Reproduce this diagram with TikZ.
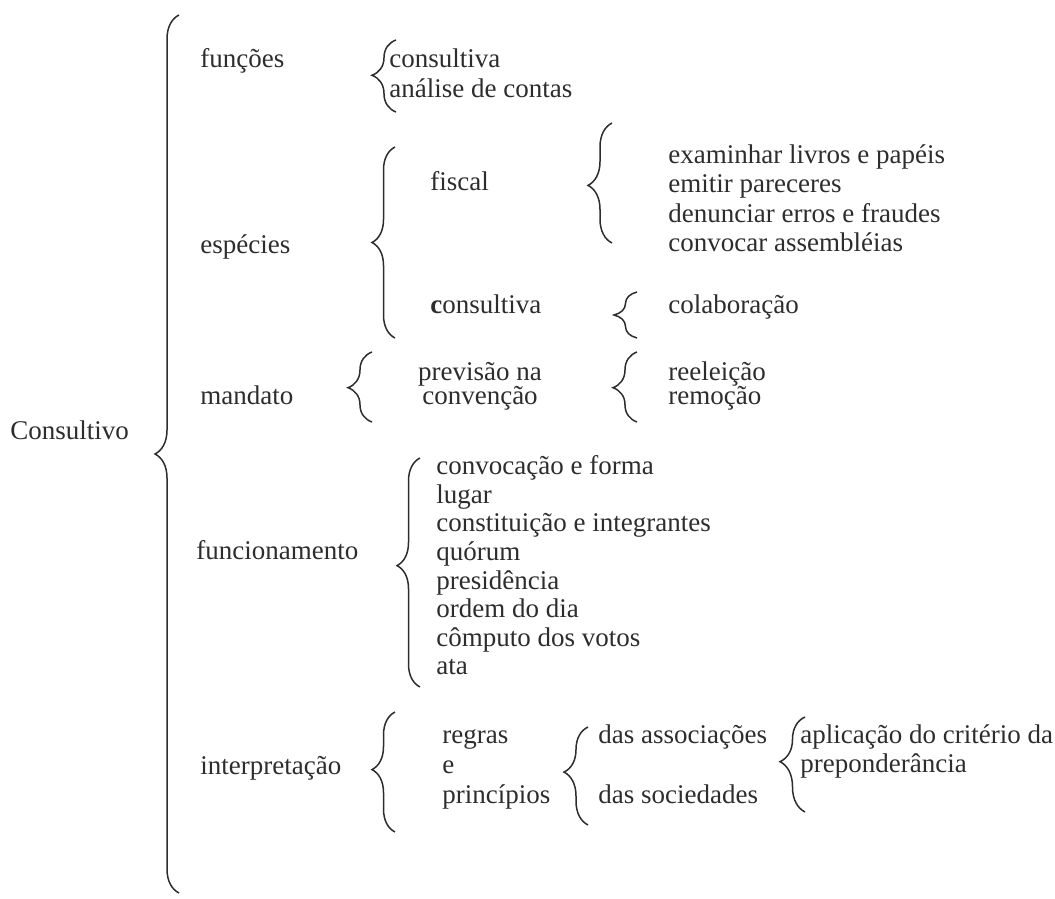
\documentclass[tikz,border=0pt]{standalone}
\usepackage{fontspec}
\setmainfont{Liberation Serif}
\usepackage{xcolor}
\definecolor{Ink}{RGB}{45,45,45}
\usetikzlibrary{decorations.pathreplacing}
\tikzstyle{Item}=[anchor=base west,inner sep=0pt,text=Ink,
font=\fontsize{13.5}{14}\selectfont]
\tikzstyle{ItemC}=[Item,anchor=base]
\tikzstyle{Brace}=[draw=Ink,line width=0.75pt,decorate]

\begin{document}
\begin{tikzpicture}[x=0.5pt,y=-0.5pt]
        \useasboundingbox (0,0) rectangle (1055,899);
        % root
        \node[Item](root)at(10,439){Consultivo};
        \coordinate(rb)at(179,893);
        \coordinate(rt)at(179,15);
        \draw[Brace,decoration={brace,amplitude=12pt,aspect=0.5}](rb)--(rt);
        % funcoes
        \node[Item](fun)at(200,68){funções};
        \coordinate(funb)at(396,112);
        \coordinate(funt)at(396,40);
        \draw[Brace,decoration={brace,amplitude=12pt,aspect=0.51}](funb)--(funt);
        \node[Item](fun1)at(389,68){consultiva};
        \node[Item](fun2)at(389,98){análise de contas};
        % especies
        \node[Item](esp)at(200,253){espécies};
        \coordinate(espb)at(395,338);
        \coordinate(espt)at(395,147);
        \draw[Brace,decoration={brace,amplitude=11.5pt,aspect=0.5}](espb)--(espt);
        \node[Item](fis)at(430,191){fiscal};
        \coordinate(fisb)at(612,243);
        \coordinate(fist)at(612,123);
        \draw[Brace,decoration={brace,amplitude=12pt,aspect=0.48}](fisb)--(fist);
        \node[Item](fis1)at(668,163){examinhar livros e papéis};
        \node[Item](fis2)at(668,192){emitir pareceres};
        \node[Item](fis3)at(668,222){denunciar erros e fraudes};
        \node[Item](fis4)at(668,251){convocar assembléias};
        \node[Item](con)at(430,313){\textbf{c}onsultiva};
        \coordinate(conb)at(637,338);
        \coordinate(cont)at(637,292);
        \draw[Brace,decoration={brace,amplitude=11.5pt,aspect=0.5}](conb)--(cont);
        \node[Item](con1)at(668,313){colaboração};
        % mandato
        \node[Item](man)at(200,404){mandato};
        \coordinate(manb)at(372,422);
        \coordinate(mant)at(372,352);
        \draw[Brace,decoration={brace,amplitude=12pt,aspect=0.49}](manb)--(mant);
        \node[ItemC](prev1)at(480,380){previsão na};
        \node[ItemC](prev2)at(480,404){convenção};
        \coordinate(prevb)at(637,422);
        \coordinate(prevt)at(637,352);
        \draw[Brace,decoration={brace,amplitude=12pt,aspect=0.49}](prevb)--(prevt);
        \node[Item](man1)at(668,380){reeleição};
        \node[Item](man2)at(668,404){remoção};
        % funcionamento
        \node[Item](func)at(196,559){funcionamento};
        \coordinate(funcb)at(420,687);
        \coordinate(funct)at(420,458);
        \draw[Brace,decoration={brace,amplitude=11.5pt,aspect=0.53}](funcb)--(funct);
        \node[Item](func1)at(436,474){convocação e forma};
        \node[Item](func2)at(436,503){lugar};
        \node[Item](func3)at(436,531){constituição e integrantes};
        \node[Item](func4)at(436,560){quórum};
        \node[Item](func5)at(436,589){presidência};
        \node[Item](func6)at(436,617){ordem do dia};
        \node[Item](func7)at(436,646){cômputo dos votos};
        \node[Item](func8)at(436,674){ata};
        % interpretacao
        \node[Item](int)at(200,774){interpretação};
        \coordinate(intb)at(395,832);
        \coordinate(intt)at(395,712);
        \draw[Brace,decoration={brace,amplitude=11.5pt,aspect=0.52}](intb)--(intt);
        \node[Item](reg1)at(442,743){regras};
        \node[Item](reg2)at(442,773){e};
        \node[Item](reg3)at(442,803){princípios};
        \coordinate(regb)at(588,825);
        \coordinate(regt)at(588,727);
        \draw[Brace,decoration={brace,amplitude=12pt,aspect=0.54}](regb)--(regt);
        \node[Item](das1)at(598,743){das associações};
        \node[Item](das2)at(598,803){das sociedades};
        \coordinate(apb)at(805,812);
        \coordinate(apt)at(805,717);
        \draw[Brace,decoration={brace,amplitude=12.5pt,aspect=0.53}](apb)--(apt);
        \node[Item](ap1)at(800,743){aplicação do critério da};
        \node[Item](ap2)at(800,772){preponderância};
    \end{tikzpicture}
\end{document}
